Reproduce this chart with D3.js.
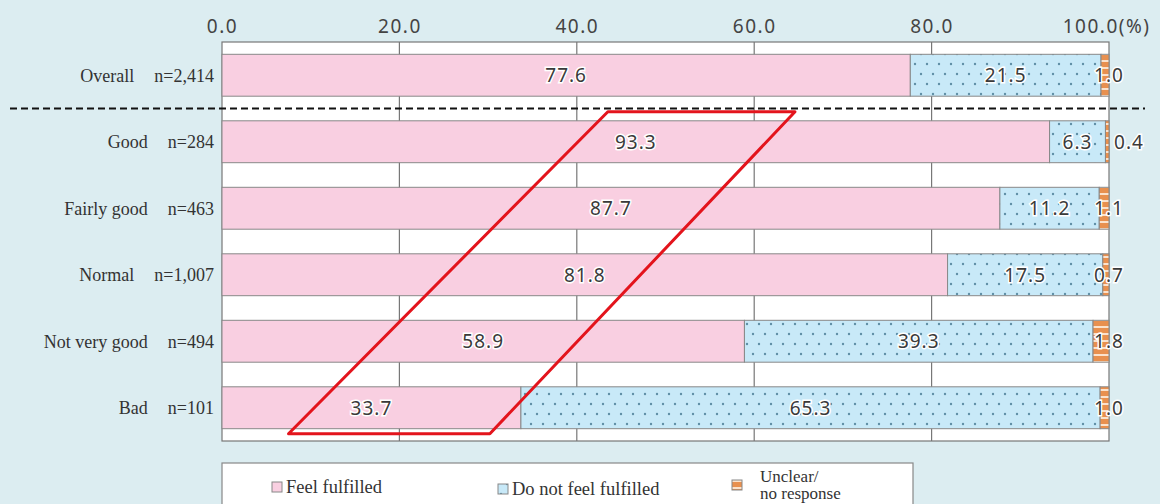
<!DOCTYPE html>
<html>
<head>
<meta charset="utf-8">
<script src="https://cdn.jsdelivr.net/npm/d3@7"></script>
<style>
  body { margin: 0; background: #dcedf1; }
  svg { display: block; }
</style>
</head>
<body>
<div id="chart"></div>
<script>
// data
const categories = ["Overall", "Good", "Fairly good", "Normal", "Not very good", "Bad"]
const sampleSizes = ["n=2,414", "n=284", "n=463", "n=1,007", "n=494", "n=101"]
const fulfilled = [77.6, 93.3, 87.7, 81.8, 58.9, 33.7]
const notFulfilled = [21.5, 6.3, 11.2, 17.5, 39.3, 65.3]
const unclear = [1.0, 0.4, 1.1, 0.7, 1.8, 1.0]
const seriesNames = ["Feel fulfilled", "Do not feel fulfilled", "Unclear/\nno response"]
const tickValues = [0, 20, 40, 60, 80, 100]
// red highlight box, in % along the axis: top from Good row, bottom under Bad row
const highlight = { topLeft: 43.5, topRight: 64.6, bottomLeft: 7.5, bottomRight: 30.2 }

const width = 1160, height = 504
const margin = { top: 42, right: 51, bottom: 63, left: 222 }
const numFont = "'Noto Sans', sans-serif"
const serif = "'Liberation Serif', serif"

const svg = d3.select("#chart").append("svg")
  .attr("width", width).attr("height", height)

const defs = svg.append("defs")
const dots = defs.append("pattern").attr("id", "dots")
  .attr("patternUnits", "userSpaceOnUse").attr("width", 24).attr("height", 20)
dots.append("rect").attr("width", 24).attr("height", 20).attr("fill", "#c8e9f8")
;[[3, 4], [15, 4], [9, 14], [21, 14]].forEach(p => dots.append("circle")
  .attr("cx", p[0]).attr("cy", p[1]).attr("r", 1.2).attr("fill", "#5f8fa6"))
const stripes = defs.append("pattern").attr("id", "stripes")
  .attr("patternUnits", "userSpaceOnUse").attr("width", 6).attr("height", 7)
stripes.append("rect").attr("width", 6).attr("height", 7).attr("fill", "#e8904f")
stripes.append("rect").attr("y", 4).attr("width", 6).attr("height", 2).attr("fill", "#fbe2cc")

const fills = ["#f9cfe1", "url(#dots)", "url(#stripes)"]

const x = d3.scaleLinear().domain([0, 100]).range([margin.left, width - margin.right])
const y = d3.scaleBand().domain(categories)
  .range([margin.top, height - margin.bottom]).paddingInner(0.37).paddingOuter(0.185)

// plot background and grid
svg.append("rect")
  .attr("x", x(0)).attr("y", margin.top)
  .attr("width", x(100) - x(0)).attr("height", height - margin.bottom - margin.top)
  .attr("fill", "#fff").attr("stroke", "#777").attr("stroke-width", 1.2)

svg.append("g").selectAll("line").data(tickValues.slice(1, -1)).join("line")
  .attr("x1", d => x(d)).attr("x2", d => x(d))
  .attr("y1", margin.top).attr("y2", height - margin.bottom)
  .attr("stroke", "#777").attr("stroke-width", 1.2)

// top axis
const axis = svg.append("g")
  .attr("transform", `translate(0,${margin.top})`)
  .call(d3.axisTop(x).tickValues(tickValues).tickSize(0).tickPadding(9)
    .tickFormat(d => d === 100 ? "100.0(%)" : d3.format(".1f")(d)))
axis.select(".domain").remove()
axis.selectAll("text")
  .attr("font-family", numFont).attr("font-size", 19)
  .attr("fill", "#444").attr("letter-spacing", 1.5)

// last label ends just inside the right edge
axis.selectAll(".tick").filter(d => d === 100).select("text")
  .attr("text-anchor", "end").attr("dx", 41)

// stacked bars
const rows = categories.map((c, i) => {
  const vals = [fulfilled[i], notFulfilled[i], unclear[i]]
  let acc = 0
  return vals.map((v, k) => {
    const seg = { cat: c, k, v, x0: acc, x1: acc + v }
    acc += v
    return seg
  })
})

const bars = svg.append("g")
bars.selectAll("g").data(rows).join("g")
  .selectAll("rect").data(d => d).join("rect")
    .attr("x", d => x(d.x0)).attr("width", d => x(Math.min(d.x1, 100)) - x(d.x0))
    .attr("y", d => y(d.cat)).attr("height", y.bandwidth())
    .attr("fill", d => fills[d.k])
    .attr("stroke", "#888").attr("stroke-width", 1)

// dashed separator under Overall
const sepY = (y("Overall") + y.bandwidth() + y("Good")) / 2
svg.append("line")
  .attr("x1", 10).attr("x2", 1145).attr("y1", sepY).attr("y2", sepY)
  .attr("stroke", "#111").attr("stroke-width", 2).attr("stroke-dasharray", "7,4")

// value labels
const labels = svg.append("g")
rows.flat().forEach(d => {
  let lx = x((d.x0 + d.x1) / 2)
  if (d.k === 2) lx = d.v < 0.5 ? x(100) + 20 : x(100)
  labels.append("text")
    .attr("x", lx).attr("y", y(d.cat) + y.bandwidth() / 2)
    .attr("dy", "0.36em").attr("text-anchor", "middle")
    .attr("font-family", numFont).attr("font-size", 19)
    .attr("fill", "#3a3a3a").attr("stroke", "#fff").attr("stroke-width", 3)
    .attr("paint-order", "stroke").attr("letter-spacing", 1)
    .text(d3.format(".1f")(d.v))
})

// row labels
const rowLabels = svg.append("g")
categories.forEach((c, i) => {
  const cy = y(c) + y.bandwidth() / 2
  const t = rowLabels.append("text")
    .attr("x", 214).attr("y", cy).attr("dy", "0.35em").attr("text-anchor", "end")
    .attr("font-family", serif).attr("font-size", 18).attr("fill", "#333")
    .text(sampleSizes[i])
  const w = t.node().getComputedTextLength()
  rowLabels.append("text")
    .attr("x", 214 - w - 20).attr("y", cy).attr("dy", "0.35em").attr("text-anchor", "end")
    .attr("font-family", serif).attr("font-size", 18).attr("fill", "#333")
    .text(c)
})

// red highlight parallelogram
const topY = y("Good") - 9
const botY = y("Bad") + y.bandwidth() + 5
const hl = d3.line().curve(d3.curveLinearClosed)
svg.append("path")
  .attr("d", hl([
    [x(highlight.topLeft), topY], [x(highlight.topRight), topY],
    [x(highlight.bottomRight), botY], [x(highlight.bottomLeft), botY]
  ]))
  .attr("fill", "none").attr("stroke", "#e3141c").attr("stroke-width", 3)
  .attr("stroke-linejoin", "round")

// legend
const legend = svg.append("g")
legend.append("rect")
  .attr("x", x(0)).attr("y", 463).attr("width", 691).attr("height", 60)
  .attr("fill", "#fff").attr("stroke", "#888").attr("stroke-width", 1.2)

const legendX = [272, 498, 732]
seriesNames.forEach((name, k) => {
  const lines = name.split("\n")
  const cy = k === 2 ? 485 : (k === 1 ? 489 : 487)
  legend.append("rect")
    .attr("x", legendX[k]).attr("y", cy - 5).attr("width", 10).attr("height", 10)
    .attr("fill", fills[k]).attr("stroke", "#888").attr("stroke-width", 1)
  lines.forEach((ln, j) => {
    legend.append("text")
      .attr("x", legendX[k] + (k === 2 ? 28 : 14))
      .attr("y", k === 2 ? 476 + j * 17 : cy).attr("dy", "0.35em")
      .attr("font-family", serif).attr("font-size", k === 2 ? 17 : 18.5).attr("fill", "#333")
      .text(ln)
  })
})
</script>
</body>
</html>
